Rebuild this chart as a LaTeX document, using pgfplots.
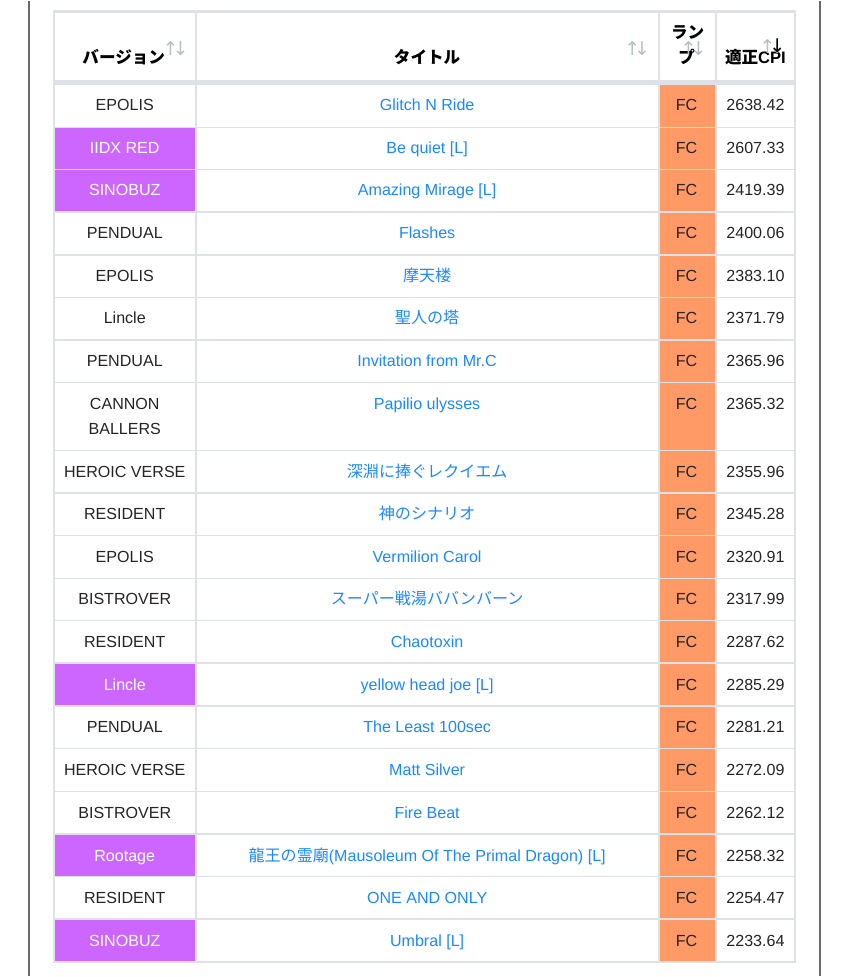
\documentclass[border=0pt]{standalone}
\usepackage{fontspec}
\setmainfont{Liberation Sans}
\newfontfamily\jpfont{Noto Sans CJK JP}
\newfontfamily\symfont{DejaVu Sans}
\protected\def\jp{\jpfont}
\protected\def\sym{\symfont}
\usepackage{pgfplots}
\pgfplotsset{compat=1.18}

\definecolor{gridc}{RGB}{222,226,230}
\definecolor{purp}{RGB}{204,102,255}
\definecolor{orng}{RGB}{255,153,102}
\definecolor{link}{RGB}{26,136,255}
\definecolor{ink}{RGB}{36,36,36}
\definecolor{framec}{RGB}{105,105,105}
\definecolor{arrowc}{RGB}{185,190,196}

% text cells: plots whose point meta is the cell text
\pgfplotsset{
  txt/.style={draw=none, mark=none, nodes near coords={\pgfplotspointmeta},
    point meta=explicit symbolic,
    every node near coord/.append style={anchor=base, inner sep=0pt,
      font=\fontsize{16.1}{20}\selectfont, text=#1}},
  cell/.style={fill=#1, draw=none, forget plot},
}

\begin{document}
\begin{tikzpicture}
\begin{axis}[
    width=850pt, height=977pt, scale only axis,
    xmin=0, xmax=850, ymin=0, ymax=977, y dir=reverse,
    hide axis, clip=false,
    unbounded coords=jump,
]
% page extent
\addplot[draw=none] coordinates {(0,0) (850,977)};
% outer page frame
\addplot[framec, line width=2pt] coordinates {(29.5,0) (29.5,977) (nan,nan) (821.5,0) (821.5,977)};

% coloured cells
\addplot[cell=orng] coordinates {(661,84) (717,84) (717,963) (661,963)} -- cycle;
\addplot[cell=purp] coordinates {(55,126.5) (196,126.5) (196,169) (55,169)} -- cycle;
\addplot[cell=purp] coordinates {(55,169) (196,169) (196,211.5) (55,211.5)} -- cycle;
\addplot[cell=purp] coordinates {(55,663.5) (196,663.5) (196,706.5) (55,706.5)} -- cycle;
\addplot[cell=purp] coordinates {(55,834.5) (196,834.5) (196,877) (55,877)} -- cycle;
\addplot[cell=purp] coordinates {(55,920) (196,920) (196,963) (55,963)} -- cycle;

% row rules
\addplot[gridc, line width=1.4pt] coordinates {
 (54,126.5) (797,126.5) (nan,nan) (54,169) (797,169) (nan,nan)
 (54,211.5) (797,211.5) (nan,nan) (54,254.5) (797,254.5) (nan,nan)
 (54,297) (797,297) (nan,nan) (54,339.5) (797,339.5) (nan,nan)
 (54,382.5) (797,382.5) (nan,nan) (54,450.5) (797,450.5) (nan,nan)
 (54,493) (797,493) (nan,nan) (54,535.5) (797,535.5) (nan,nan)
 (54,578.5) (797,578.5) (nan,nan) (54,621) (797,621) (nan,nan)
 (54,663.5) (797,663.5) (nan,nan) (54,706.5) (797,706.5) (nan,nan)
 (54,749) (797,749) (nan,nan) (54,792) (797,792) (nan,nan)
 (54,834.5) (797,834.5) (nan,nan) (54,877) (797,877) (nan,nan)
 (54,920) (797,920)
};
% column rules
\addplot[gridc, line width=1.8pt] coordinates {
 (196,9) (196,963) (nan,nan) (660.5,9) (660.5,963) (nan,nan)
 (717.5,9) (717.5,963)
};
% outer border and header rule
\addplot[gridc, line width=2.2pt] coordinates {
 (54,9) (54,963) (nan,nan) (796.5,9) (796.5,963) (nan,nan)
 (53,963) (797.5,963)
};
\addplot[gridc, line width=3pt] coordinates {(53,10.5) (797.5,10.5)};
\addplot[gridc, line width=4.5pt] coordinates {(53,81.5) (797.5,81.5)};

% header
\addplot[txt=black, every node near coord/.append style={font=\bfseries\fontsize{16.6}{20}\selectfont}]
 coordinates {
 (124,63) [{\jp バージョン}]
 (428,63) [{\jp タイトル}]
 (689,38) [{\jp ラン}]
 (688,63) [{\jp プ}]
 (757,63) [{{\jp 適正}CPI}]
};
\addplot[txt=arrowc, every node near coord/.append style={anchor=center, font=\fontsize{19}{20}\selectfont}]
 coordinates {
 (176,48) [{\sym ↑\kern-6pt↓}]
 (638.5,48) [{\sym ↑\kern-6pt↓}]
 (695,48) [{\sym ↑\kern-6pt↓}]
 (774,46) [{\sym ↑\kern-6pt↓}]
};
\addplot[txt=black, every node near coord/.append style={anchor=center, font=\fontsize{19}{20}\selectfont}]
 coordinates {(779,45) [{\sym ↓}]};

% version column, dark text
\addplot[txt=ink] coordinates {
 (125,110) [EPOLIS]
 (125,238) [PENDUAL]
 (125,281) [EPOLIS]
 (125,323) [Lincle]
 (125,366) [PENDUAL]
 (125,409) [CANNON]
 (125,434) [BALLERS]
 (125,477) [HEROIC VERSE]
 (125,520) [RESIDENT]
 (125,563) [EPOLIS]
 (125,605) [BISTROVER]
 (125,648) [RESIDENT]
 (125,733) [PENDUAL]
 (125,776) [HEROIC VERSE]
 (125,819) [BISTROVER]
 (125,904) [RESIDENT]
};
% version column, white text on purple
\addplot[txt=white] coordinates {
 (125,152.5) [IIDX RED]
 (125,195) [SINOBUZ]
 (125,691) [Lincle]
 (125,862) [Rootage]
 (125,947) [SINOBUZ]
};
% titles
\addplot[txt=link] coordinates {
 (428,110) [Glitch N Ride]
 (428,152.5) [{Be quiet [L]}]
 (428,195) [{Amazing Mirage [L]}]
 (428,238) [Flashes]
 (428,281) [{\jp 摩天楼}]
 (428,323) [{\jp 聖人の塔}]
 (428,366) [Invitation from Mr.C]
 (428,409) [Papilio ulysses]
 (428,477) [{\jp 深淵に捧ぐレクイエム}]
 (428,520) [{\jp 神のシナリオ}]
 (428,563) [Vermilion Carol]
 (428,605) [{\jp スーパー戦湯ババンバーン}]
 (428,648) [Chaotoxin]
 (428,691) [{yellow head joe [L]}]
 (428,733) [The Least 100sec]
 (428,776) [Matt Silver]
 (428,819) [Fire Beat]
 (428,862) [{{\jp 龍王の霊廟}(Mausoleum Of The Primal Dragon) [L]}]
 (428,904) [ONE AND ONLY]
 (428,947) [{Umbral [L]}]
};
% lamp and CPI
\addplot[txt=ink] coordinates {
 (688,110) [FC] (688,152.5) [FC] (688,195) [FC] (688,238) [FC]
 (688,281) [FC] (688,323) [FC] (688,366) [FC] (688,409) [FC]
 (688,477) [FC] (688,520) [FC] (688,563) [FC] (688,605) [FC]
 (688,648) [FC] (688,691) [FC] (688,733) [FC] (688,776) [FC]
 (688,819) [FC] (688,862) [FC] (688,904) [FC] (688,947) [FC]
};
\addplot[txt=ink] coordinates {
 (757,110) [2638.42]
 (757,152.5) [2607.33]
 (757,195) [2419.39]
 (757,238) [2400.06]
 (757,281) [2383.10]
 (757,323) [2371.79]
 (757,366) [2365.96]
 (757,409) [2365.32]
 (757,477) [2355.96]
 (757,520) [2345.28]
 (757,563) [2320.91]
 (757,605) [2317.99]
 (757,648) [2287.62]
 (757,691) [2285.29]
 (757,733) [2281.21]
 (757,776) [2272.09]
 (757,819) [2262.12]
 (757,862) [2258.32]
 (757,904) [2254.47]
 (757,947) [2233.64]
};
\end{axis}
\end{tikzpicture}
\end{document}
